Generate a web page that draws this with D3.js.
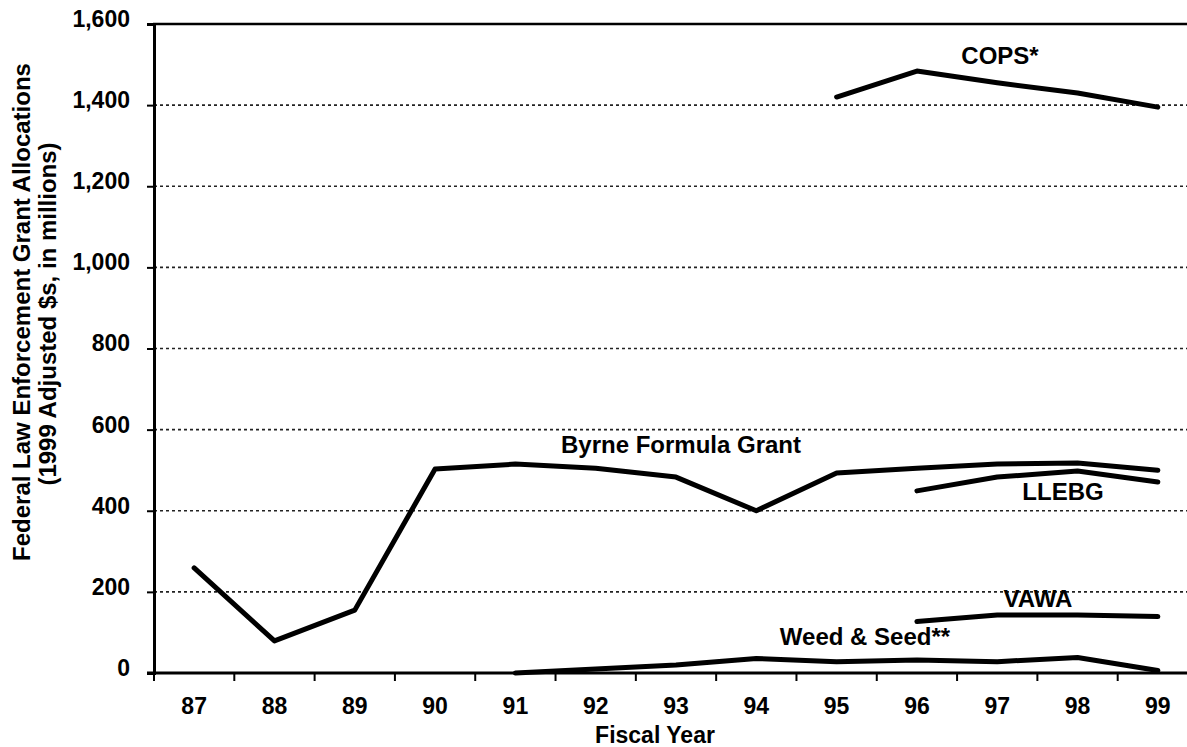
<!DOCTYPE html>
<html><head><meta charset="utf-8">
<script src="https://cdn.jsdelivr.net/npm/d3@7"></script>
<style>body{margin:0;background:#fff}svg{display:block}text{font-family:"Liberation Sans",Arial,sans-serif;font-weight:bold;fill:#000}</style>
</head><body>
<svg id="c" width="1187" height="747"></svg>
<script>
const years = ["87","88","89","90","91","92","93","94","95","96","97","98","99"];
const yTicks = [0,200,400,600,800,1000,1200,1400,1600];
const byrne = [259,79,155,503,515,505,483,400,493,505,515,518,500];
const cops = [null,null,null,null,null,null,null,null,1420,1484,1455,1430,1395];
const llebg = [null,null,null,null,null,null,null,null,null,449,483,498,471];
const vawa = [null,null,null,null,null,null,null,null,null,127,143,143,139];
const weed = [null,null,null,null,0,10,20,36,28,32,28,38,6];
const seriesNames = ["Byrne Formula Grant","COPS*","LLEBG","VAWA","Weed & Seed**"];

const svg = d3.select("#c");
const L = 154, R = 1198, T = 24, B = 673;
const x = d3.scaleBand().domain(years).range([L, R]);
const y = d3.scaleLinear().domain([0,1600]).range([B, T]);
const cx = d => x(d) + x.bandwidth()/2;
const FONT = "Liberation Sans, Arial, sans-serif";

// gridlines
svg.append("g").selectAll("line").data(yTicks.filter(v => v>0 && v<1600)).join("line")
  .attr("x1", L).attr("x2", 1187).attr("y1", d=>y(d)).attr("y2", d=>y(d))
  .attr("stroke", "#222").attr("stroke-width", 1.6).attr("stroke-dasharray", "3,3");
// top border
svg.append("line").attr("x1", L-1).attr("x2", 1187).attr("y1", y(1600)).attr("y2", y(1600))
  .attr("stroke","#000").attr("stroke-width",2.5);

// y axis
const ya = svg.append("g").attr("transform", `translate(${L},0)`)
  .call(d3.axisLeft(y).tickValues(yTicks).tickSize(7).tickPadding(17).tickFormat(d3.format(",")));
ya.select(".domain").attr("stroke-width", 3);
ya.selectAll(".tick line").attr("stroke-width", 2);
ya.selectAll(".tick text").attr("y", -5).style("font-size","23px").style("font-family",FONT).style("font-weight","bold");

// x axis
const xa = svg.append("g").attr("transform", `translate(0,${B})`)
  .call(d3.axisBottom(x).tickSize(0).tickPadding(25));
xa.select(".domain").attr("stroke-width", 3).attr("d", `M${L-7},0H1187`);
xa.selectAll(".tick text").style("font-size","23px").style("font-family",FONT).style("font-weight","bold");
svg.append("g").selectAll("line").data(years).join("line")
  .attr("x1", d=>x(d)).attr("x2", d=>x(d)).attr("y1", B).attr("y2", B+8)
  .attr("stroke","#000").attr("stroke-width",2);

// lines
const line = d3.line().defined(d => d.v != null).x(d => cx(d.k)).y(d => y(d.v));
[byrne, cops, llebg, vawa, weed].forEach(s => {
  svg.append("path").datum(years.map((k,i)=>({k, v:s[i]})))
    .attr("d", line).attr("fill","none").attr("stroke","#000")
    .attr("stroke-width",5).attr("stroke-linejoin","round").attr("stroke-linecap","round");
});

// series labels
const lab = (t, xx, yy) => svg.append("text").attr("x", xx).attr("y", yy).attr("text-anchor","middle")
  .style("font-size","24px").text(t);
lab(seriesNames[0], 681, 453);
lab(seriesNames[1], 1000, 64);
lab(seriesNames[2], 1063, 500);
lab(seriesNames[3], 1038, 607);
lab(seriesNames[4], 865, 645);

// axis titles
svg.append("text").attr("transform", `translate(30,312) rotate(-90)`).attr("text-anchor","middle")
  .style("font-size","24px").text("Federal Law Enforcement Grant Allocations");
svg.append("text").attr("transform", `translate(56,314) rotate(-90)`).attr("text-anchor","middle")
  .style("font-size","24px").text("(1999 Adjusted $s, in millions)");
svg.append("text").attr("x", 655).attr("y", 743).attr("text-anchor","middle")
  .style("font-size","23px").text("Fiscal Year");
</script>
</body></html>
